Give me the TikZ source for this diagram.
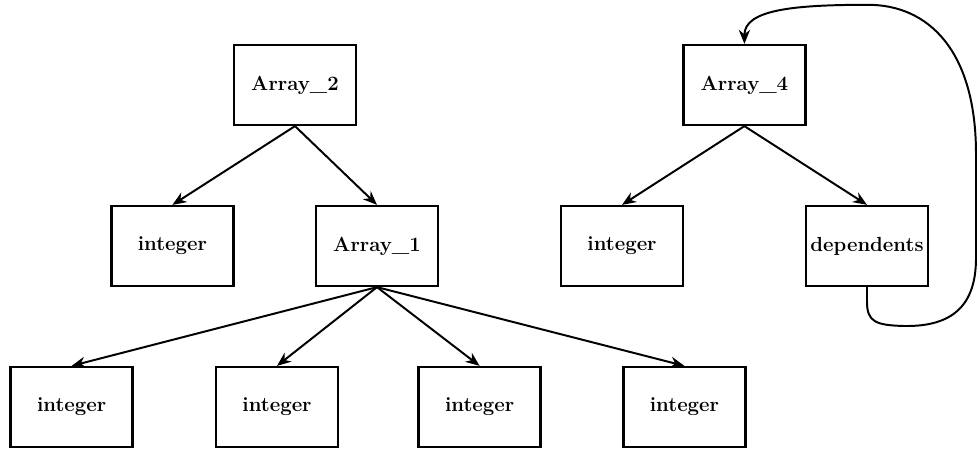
\documentclass[tikz,border=0pt]{standalone}
\usetikzlibrary{arrows.meta}
\begin{document}
\begin{tikzpicture}[
        typebox/.style={draw, line width=1.6pt, minimum width=3.05cm, minimum height=2cm,
            font=\fontsize{14.5}{16}\selectfont\bfseries},
        link/.style={-{Stealth[length=10pt,width=8pt]}, line width=1.4pt}
    ]
        \useasboundingbox (0,0) rectangle (24.5,11.25);
        \node[typebox] (arr2) at (7.375,9.125) {Array\_2};
        \node[typebox] (arr4) at (18.61,9.125) {Array\_4};
        \node[typebox] (int1) at (4.31,5.1) {integer};
        \node[typebox] (arr1) at (9.425,5.1) {Array\_1};
        \node[typebox] (int2) at (15.55,5.1) {integer};
        \node[typebox] (dep) at (21.675,5.1) {dependents};
        \node[typebox] (int3) at (1.79,1.075) {integer};
        \node[typebox] (int4) at (6.925,1.075) {integer};
        \node[typebox] (int5) at (11.99,1.075) {integer};
        \node[typebox] (int6) at (17.11,1.075) {integer};
        \draw[link] (arr2.south) -- (int1.north);
        \draw[link] (arr2.south) -- (arr1.north);
        \draw[link] (arr4.south) -- (int2.north);
        \draw[link] (arr4.south) -- (dep.north);
        \foreach \n in {int3,int4,int5,int6}
            \draw[link] (arr1.south) -- (\n.north);
        % loop back from dependents to Array_4
        \draw[link] (dep.south) -- (21.675,3.7) .. controls (21.675,3.2) and (21.9,3.12) .. (22.6,3.1)
            .. controls (23.8,3.08) and (24.4,3.6) .. (24.4,4.8) -- (24.4,7.4)
            .. controls (24.4,10.0) and (23.2,11.13) .. (21.7,11.13)
            .. controls (19.8,11.13) and (18.61,11.0) .. (arr4.north);
\end{tikzpicture}
\end{document}
